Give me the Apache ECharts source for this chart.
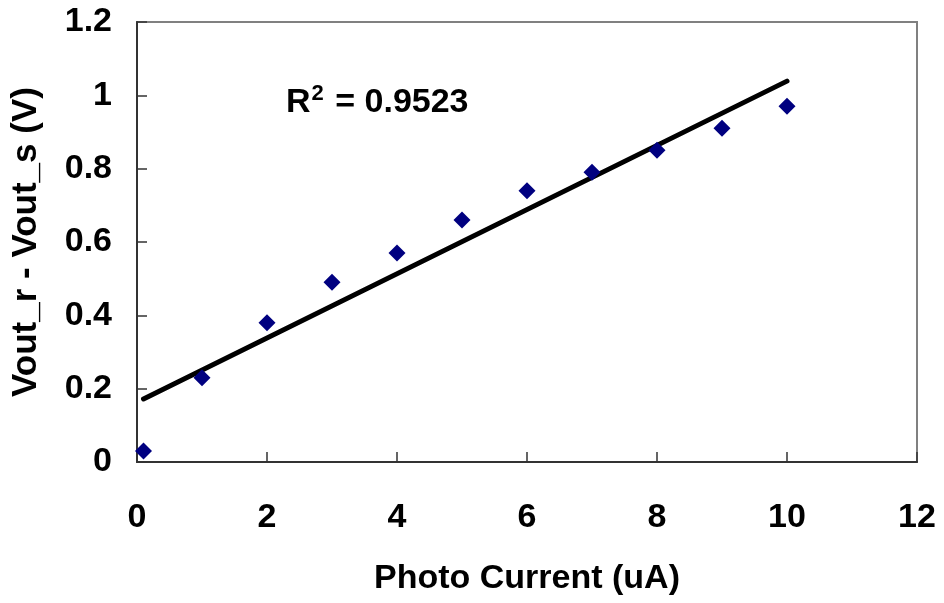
<!DOCTYPE html>
<html>
<head>
<meta charset="utf-8">
<script src="https://cdn.jsdelivr.net/npm/echarts@6/dist/echarts.min.js"></script>
<style>
    html, body { margin: 0; padding: 0; background: #fff; }
</style>
</head>
<body>
<div id="main" style="width:944px;height:603px;"></div>
<script>
    // measured points: photo current (uA) vs Vout_r - Vout_s (V)
    var photoCurrent = [0.1, 1, 2, 3, 4, 5, 6, 7, 8, 9, 10];
    var voutDiff = [0.03, 0.23, 0.38, 0.49, 0.57, 0.66, 0.74, 0.79, 0.85, 0.91, 0.97];
    var r2Label = '0.9523';

    // least squares trend line over the measured points
    var n = photoCurrent.length, sx = 0, sy = 0, sxy = 0, sxx = 0;
    for (var i = 0; i < n; i++) {
        sx += photoCurrent[i];
        sy += voutDiff[i];
        sxy += photoCurrent[i] * voutDiff[i];
        sxx += photoCurrent[i] * photoCurrent[i];
    }
    var slope = (n * sxy - sx * sy) / (n * sxx - sx * sx);
    var intercept = (sy - slope * sx) / n;
    var xFirst = photoCurrent[0], xLast = photoCurrent[n - 1];
    var trend = [[xFirst, intercept + slope * xFirst], [xLast, intercept + slope * xLast]];

    var points = photoCurrent.map(function (x, i) { return [x, voutDiff[i]]; });

    var font = 'Arial, "Liberation Sans", sans-serif';
    var myChart = echarts.init(document.getElementById('main'));

    myChart.setOption({
        animation: false,
        grid: {
            left: 137, right: 27, top: 22, bottom: 141,
            show: true,
            borderColor: '#808080',
            borderWidth: 2
        },
        xAxis: {
            type: 'value',
            min: 0, max: 12, interval: 2,
            name: 'Photo Current (uA)',
            nameLocation: 'middle',
            nameGap: 100,
            nameTextStyle: { fontFamily: font, fontWeight: 'bold', fontSize: 34, color: '#000' },
            axisLine: { onZero: false, lineStyle: { color: '#333', width: 2 } },
            axisTick: { inside: true, length: 10, lineStyle: { color: '#333', width: 1.5 } },
            axisLabel: { margin: 39, fontFamily: font, fontWeight: 'bold', fontSize: 34, color: '#000' },
            splitLine: { show: false }
        },
        yAxis: {
            type: 'value',
            min: 0, max: 1.2, interval: 0.2,
            name: 'Vout_r - Vout_s (V)',
            nameLocation: 'middle',
            nameGap: 93,
            nameTextStyle: { fontFamily: font, fontWeight: 'bold', fontSize: 35, color: '#000' },
            axisLine: { onZero: false, lineStyle: { color: '#333', width: 2 } },
            axisTick: { inside: true, length: 10, lineStyle: { color: '#333', width: 1.5 } },
            axisLabel: { margin: 25, fontFamily: font, fontWeight: 'bold', fontSize: 34, color: '#000' },
            splitLine: { show: false }
        },
        graphic: [{
            type: 'text',
            left: 286,
            top: 83,
            style: {
                text: 'R{sup|2} = ' + r2Label,
                fontFamily: font,
                fontWeight: 'bold',
                fontSize: 34,
                fill: '#000',
                rich: {
                    sup: {
                        fontFamily: font,
                        fontWeight: 'bold',
                        fontSize: 22,
                        verticalAlign: 'top',
                        padding: [0, 2, 18, 1]
                    }
                }
            }
        }],
        series: [{
            name: 'trend',
            type: 'line',
            data: trend,
            symbol: 'none',
            lineStyle: { color: '#000', width: 5, cap: 'round' },
            z: 2
        }, {
            name: 'data',
            type: 'scatter',
            data: points,
            symbol: 'diamond',
            symbolSize: 17,
            itemStyle: { color: '#000080', opacity: 1 },
            z: 3
        }]
    });
</script>
</body>
</html>
